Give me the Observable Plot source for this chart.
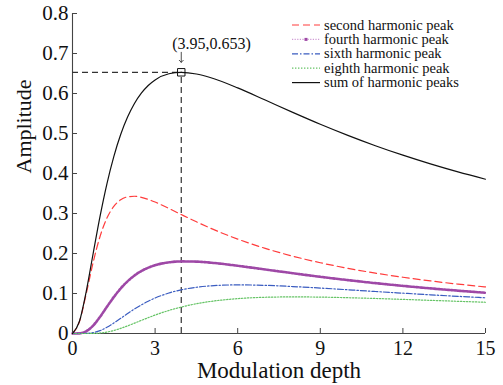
<!DOCTYPE html>
<html>
<head>
<meta charset="utf-8">
<script src="https://cdn.jsdelivr.net/npm/d3@7"></script>
<script src="https://cdn.jsdelivr.net/npm/@observablehq/plot@0.6"></script>
<style>
  html, body { margin: 0; padding: 0; background: #fff; }
  #wrap { position: relative; width: 503px; height: 385px; }
  #legend { position: absolute; left: 0; top: 0; pointer-events: none; }
</style>
</head>
<body>
<div id="wrap"></div>
<script>
// Modulation depth samples
const depth = [0,0.25,0.5,0.75,1,1.25,1.5,1.75,2,2.25,2.5,2.75,3,3.5,3.95,4.5,5,6,7,8,9,10,11,12,13,14,15];
const second = [0,0.0294,0.0997,0.1778,0.2426,0.2886,0.3178,0.3342,0.3416,0.3431,0.3405,0.3353,0.3286,0.3126,0.2974,0.2792,0.2636,0.2360,0.2128,0.1933,0.1769,0.1630,0.1510,0.1406,0.1315,0.1235,0.1165];
const fourth = [0,0.0004,0.0056,0.0198,0.0416,0.0667,0.0910,0.1125,0.1305,0.1449,0.1561,0.1645,0.1707,0.1779,0.1802,0.1797,0.1772,0.1693,0.1600,0.1507,0.1417,0.1335,0.1259,0.1191,0.1128,0.1071,0.1019];
const sixth = [0,0.0000,0.0003,0.0022,0.0071,0.0154,0.0261,0.0379,0.0498,0.0612,0.0715,0.0807,0.0887,0.1012,0.1092,0.1156,0.1191,0.1215,0.1204,0.1174,0.1136,0.1093,0.1050,0.1008,0.0967,0.0929,0.0892];
const eighth = [0,0,0.0000,0.0002,0.0012,0.0036,0.0075,0.0128,0.0190,0.0258,0.0328,0.0396,0.0461,0.0576,0.0661,0.0744,0.0800,0.0872,0.0906,0.0915,0.0910,0.0895,0.0876,0.0853,0.0829,0.0805,0.0781];
const total = [0,0.0299,0.1056,0.2000,0.2926,0.3742,0.4423,0.4974,0.5410,0.5750,0.6009,0.6201,0.6340,0.6493,0.6529,0.6488,0.6399,0.6140,0.5837,0.5529,0.5232,0.4954,0.4695,0.4458,0.4240,0.4040,0.3857];

const seriesNames = ["second harmonic peak","fourth harmonic peak","sixth harmonic peak","eighth harmonic peak","sum of harmonic peaks"];
const seriesValues = [second, fourth, sixth, eighth, total];

const xTicks = [0,3,6,9,12,15];
const yTicks = [0,0.1,0.2,0.3,0.4,0.5,0.6,0.7,0.8];

const peak = {x: 3.95, y: 0.653};
const peakLabel = "(3.95,0.653)";

const styles = [
  {stroke: "#ff3c3c", strokeWidth: 1.2, strokeDasharray: "7,4"},
  {stroke: "#9e48a6", strokeWidth: 2.6, strokeDasharray: "2.2,1.3"},
  {stroke: "#3a5cc0", strokeWidth: 1.2, strokeDasharray: "6,2,1.5,2"},
  {stroke: "#66c466", strokeWidth: 1.2, strokeDasharray: "1.4,1.6"},
  {stroke: "#111", strokeWidth: 1.2, strokeDasharray: null}
];

const rowsFor = (vals) => depth.map((d, i) => ({x: d, y: vals[i]}));

const W = 503, H = 385, mL = 72, mR = 18, mT = 13, mB = 52;
const innerW = W - mL - mR, innerH = H - mT - mB;
const font = "Liberation Serif";

const lineMarks = [];
seriesValues.forEach((vals, i) => {
  const s = styles[i];
  if (i === 1) {
    lineMarks.push(Plot.line(rowsFor(vals), {x: "x", y: "y", stroke: "#cf9ad4", strokeWidth: 1.2, curve: "monotone-x"}));
  }
  lineMarks.push(Plot.line(rowsFor(vals), {x: "x", y: "y", stroke: s.stroke, strokeWidth: s.strokeWidth, strokeDasharray: s.strokeDasharray, curve: "monotone-x"}));
});

const chart = Plot.plot({
  width: W, height: H,
  marginLeft: mL, marginRight: mR, marginTop: mT, marginBottom: mB,
  style: {fontFamily: font, background: "#fff", color: "#111"},
  x: {domain: [0, 15], ticks: xTicks, label: null},
  y: {domain: [0, 0.8], ticks: yTicks, label: null},
  marks: [
    Plot.axisX({ticks: xTicks, tickSize: 0, tickPadding: 7, fontSize: 20, fontFamily: font, label: null, fill: "#111"}),
    Plot.axisY({ticks: yTicks, tickSize: 0, tickPadding: 4, fontSize: 21, fontFamily: font, label: null, fill: "#111", tickFormat: d => String(d)}),
    Plot.tickX(xTicks, {x: d => d, insetTop: innerH - 5, stroke: "#444", strokeWidth: 1}),
    Plot.tickY(yTicks, {y: d => d, insetRight: innerW - 5, stroke: "#444", strokeWidth: 1}),
    Plot.ruleX([0], {stroke: "#444", strokeWidth: 1.1}),
    Plot.ruleY([0], {stroke: "#444", strokeWidth: 1.1}),
    Plot.ruleY([peak], {y: "y", x1: 0, x2: "x", stroke: "#333", strokeWidth: 1.2, strokeDasharray: "6,4"}),
    Plot.ruleX([peak], {x: "x", y1: 0, y2: "y", stroke: "#333", strokeWidth: 1.2, strokeDasharray: "6,4"}),
    ...lineMarks,
    Plot.dot([peak], {x: "x", y: "y", symbol: "square", r: 4.2, stroke: "#111", strokeWidth: 1, fill: "none"}),
    Plot.vector([peak], {x: "x", y: "y", length: 10, rotate: 180, anchor: "end", dy: -10, shape: "arrow", stroke: "#222", strokeWidth: 0.8}),
    Plot.text([peakLabel], {x: () => peak.x, y: () => peak.y, text: d => d, dy: -28, dx: -9, textAnchor: "start", fontSize: 16, fontFamily: font, fill: "#111"}),
    Plot.text(["Modulation depth"], {frameAnchor: "bottom", lineAnchor: "middle", dy: 37, fontSize: 23, fontFamily: font, fill: "#111"}),
    Plot.text(["Amplitude"], {frameAnchor: "left", lineAnchor: "middle", dx: -49, rotate: -90, fontSize: 22, fontFamily: font, fill: "#111"})
  ]
});

const wrap = document.getElementById("wrap");
wrap.appendChild(chart);

// Legend overlay
const ns = "http://www.w3.org/2000/svg";
const leg = document.createElementNS(ns, "svg");
leg.setAttribute("id", "legend");
leg.setAttribute("width", W);
leg.setAttribute("height", 100);
const rowY = [25, 39.4, 53.8, 68.2, 82.6];
seriesNames.forEach((name, i) => {
  const s = styles[i];
  const ln = document.createElementNS(ns, "line");
  ln.setAttribute("x1", 292); ln.setAttribute("x2", 320);
  ln.setAttribute("y1", rowY[i]); ln.setAttribute("y2", rowY[i]);
  ln.setAttribute("stroke", i === 1 ? "#cf9ad4" : s.stroke);
  ln.setAttribute("stroke-width", i === 1 ? 1.2 : s.strokeWidth);
  if (s.strokeDasharray) ln.setAttribute("stroke-dasharray", i === 1 ? "1.2,1.4" : s.strokeDasharray);
  leg.appendChild(ln);
  if (i === 1) {
    const c = document.createElementNS(ns, "rect");
    c.setAttribute("x", 304.5); c.setAttribute("y", rowY[i] - 1.5);
    c.setAttribute("width", 3); c.setAttribute("height", 3);
    c.setAttribute("fill", s.stroke);
    leg.appendChild(c);
  }
  const t = document.createElementNS(ns, "text");
  t.setAttribute("x", 324); t.setAttribute("y", rowY[i]);
  t.setAttribute("dy", "0.32em");
  t.setAttribute("font-family", font);
  t.setAttribute("font-size", 14.5);
  t.setAttribute("fill", "#111");
  t.textContent = name;
  leg.appendChild(t);
});
wrap.appendChild(leg);
</script>
</body>
</html>
